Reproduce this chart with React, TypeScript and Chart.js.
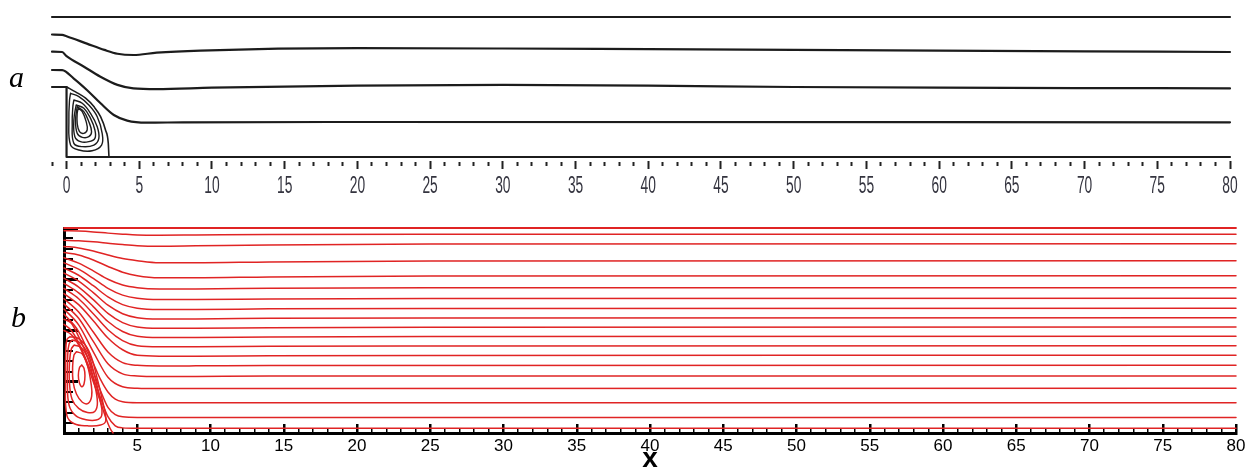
import React, { useEffect, useRef } from "react";
import { Chart, registerables } from "chart.js";
Chart.register(...registerables);

type P = [number, number];

// ---------- Panel a (top): axis ----------
const aXMin = -1;
const aXMax = 80;
const aYMin = 0;
const aYMax = 2;
const aLabelStep = 5;

// walls
const aTopWall: P[] = [[-1, 2], [80, 2]];
const aStepWall: P[] = [[-1, 1], [0, 1], [0, 0], [80, 0]];

// streamlines
const aStream1: P[] = [[-1, 1.75], [-0.3, 1.745], [0, 1.725], [1.4, 1.62], [2.6, 1.53], [3.5, 1.475], [4.6, 1.457], [6.2, 1.49], [9.2, 1.52], [20, 1.555], [30, 1.55], [40, 1.54], [50, 1.53], [60, 1.52], [70, 1.51], [80, 1.5]];
const aStream2: P[] = [[-1, 1.504], [-0.3, 1.5], [0, 1.44], [1.2, 1.29], [2.3, 1.15], [3.5, 1.03], [4.6, 0.98], [6.2, 0.97], [10, 0.99], [20, 1.02], [30, 1.03], [40, 1.02], [50, 1.0], [60, 0.99], [70, 0.985], [80, 0.98]];
const aStream3: P[] = [[-1, 1.243], [-0.3, 1.24], [0.5, 1.12], [1.4, 0.957], [2.34, 0.767], [3.25, 0.6], [4.17, 0.52], [5.5, 0.49], [8, 0.495], [20, 0.5], [80, 0.495]];
const aSeparatrix: P[] = [[0.02, 1.0], [0.62, 0.93], [1.31, 0.84], [1.88, 0.72], [2.34, 0.576], [2.68, 0.386], [2.87, 0.196], [2.91, 0.03], [2.92, 0]];

// recirculation loops
const aLoop1: P[] = [[0.275, 0.91], [0.85, 0.862], [1.53, 0.743], [2.11, 0.576], [2.45, 0.338], [2.41, 0.171], [1.76, 0.09], [0.85, 0.1], [0.275, 0.171], [0.16, 0.529], [0.206, 0.814], [0.275, 0.91]];
const aLoop2: P[] = [[0.504, 0.814], [1.08, 0.767], [1.65, 0.624], [2.11, 0.433], [2.22, 0.267], [1.88, 0.171], [1.08, 0.148], [0.504, 0.195], [0.39, 0.481], [0.435, 0.719], [0.504, 0.814]];
const aLoop3: P[] = [[0.66, 0.743], [1.19, 0.695], [1.65, 0.552], [1.95, 0.386], [1.95, 0.267], [1.53, 0.219], [0.96, 0.219], [0.573, 0.29], [0.504, 0.529], [0.66, 0.743]];
const aLoop4: P[] = [[0.733, 0.719], [1.19, 0.648], [1.53, 0.505], [1.72, 0.362], [1.53, 0.29], [1.08, 0.281], [0.733, 0.338], [0.62, 0.529], [0.733, 0.719]];
const aLoop5: P[] = [[0.8, 0.695], [1.08, 0.648], [1.35, 0.505], [1.42, 0.386], [1.19, 0.338], [0.89, 0.362], [0.733, 0.481], [0.733, 0.624], [0.8, 0.695]];

// ---------- Panel b (bottom) ----------
const bXMin = 0;
const bXMax = 80;
const bYMin = 0;
const bYMax = 2;

const bTopWall: P[] = [[0, 2], [80, 2]];

const bStreams: P[][] = [
  [[0, 1.973], [1, 1.97], [2, 1.962], [3, 1.95], [4, 1.94], [5, 1.932], [6.5, 1.93], [9, 1.932], [14, 1.936], [25, 1.939], [80, 1.939]],
  [[0, 1.88], [1, 1.876], [2, 1.866], [3, 1.852], [4, 1.838], [5, 1.827], [6.5, 1.822], [9, 1.826], [14, 1.835], [25, 1.843], [80, 1.847]],
  [[0, 1.82], [1, 1.806], [2, 1.776], [3, 1.737], [4, 1.702], [5, 1.681], [6.5, 1.661], [9, 1.661], [14, 1.669], [25, 1.677], [80, 1.681]],
  [[0, 1.76], [1, 1.737], [2, 1.688], [3, 1.625], [4, 1.569], [5, 1.535], [6.5, 1.515], [9, 1.515], [14, 1.523], [25, 1.531], [80, 1.535]],
  [[0, 1.71], [1, 1.657], [2, 1.582], [3, 1.5], [4, 1.444], [5, 1.418], [6.5, 1.406], [9, 1.406], [14, 1.412], [25, 1.416], [80, 1.418]],
  [[0, 1.66], [1, 1.598], [2, 1.508], [3, 1.411], [4, 1.345], [5, 1.314], [6.5, 1.302], [9, 1.302], [14, 1.308], [25, 1.312], [80, 1.314]],
  [[0, 1.61], [1, 1.539], [2, 1.437], [3, 1.327], [4, 1.252], [5, 1.217], [6.5, 1.205], [9, 1.205], [14, 1.211], [25, 1.215], [80, 1.217]],
  [[0, 1.56], [1, 1.482], [2, 1.369], [3, 1.247], [4, 1.164], [5, 1.125], [6.5, 1.113], [9, 1.113], [14, 1.119], [25, 1.123], [80, 1.125]],
  [[0, 1.51], [1, 1.424], [2, 1.301], [3, 1.167], [4, 1.077], [5, 1.034], [6.5, 1.022], [9, 1.022], [14, 1.028], [25, 1.032], [80, 1.034]],
  [[0, 1.46], [1, 1.367], [2, 1.233], [3, 1.088], [4, 0.99], [5, 0.943], [6.5, 0.931], [9, 0.931], [14, 0.937], [25, 0.941], [80, 0.943]],
  [[0, 1.41], [1, 1.31], [2, 1.164], [3, 1.008], [4, 0.902], [5, 0.852], [6.5, 0.842], [9, 0.842], [14, 0.847], [25, 0.85], [80, 0.852]],
  [[0, 1.36], [1, 1.252], [2, 1.095], [3, 0.927], [4, 0.812], [5, 0.758], [6.5, 0.75], [9, 0.75], [14, 0.754], [25, 0.757], [80, 0.758]],
  [[0, 1.31], [1, 1.18], [2, 0.985], [3, 0.79], [4, 0.686], [5, 0.66], [6.5, 0.654], [9, 0.655], [14, 0.658], [80, 0.66]],
  [[0, 1.26], [1, 1.119], [2, 0.894], [3, 0.676], [4, 0.577], [5, 0.556], [6.5, 0.551], [9, 0.552], [14, 0.555], [80, 0.556]],
  [[0, 1.21], [1, 1.055], [2, 0.792], [3, 0.544], [4, 0.451], [5, 0.436], [6.5, 0.433], [14, 0.435], [80, 0.436]],
  [[0, 1.16], [1, 0.99], [2, 0.68], [2.5, 0.52], [3, 0.4], [3.5, 0.33], [4, 0.305], [5, 0.296], [80, 0.296]],
  [[0, 1.11], [0.5, 1.07], [1, 0.94], [1.5, 0.78], [2, 0.6], [2.5, 0.41], [3, 0.25], [3.5, 0.18], [4, 0.158], [5, 0.152], [80, 0.152]],
  [[0, 1.06], [0.5, 1.0], [1, 0.88], [1.5, 0.72], [2, 0.54], [2.5, 0.34], [3, 0.16], [3.5, 0.07], [4, 0.05], [5, 0.046], [80, 0.046]],
];
const bSeparatrix: P[] = [[0, 1.0], [0.5, 0.96], [1, 0.86], [1.5, 0.7], [2, 0.5], [2.5, 0.3], [2.9, 0.13], [3.2, 0.03], [3.35, 0]];

const bLoops: P[][] = [
  [[1.21, 0.663], [1.37, 0.63], [1.43, 0.56], [1.37, 0.48], [1.21, 0.452], [1.05, 0.49], [0.98, 0.56], [1.05, 0.635], [1.21, 0.663]],
  [[0.85, 0.793], [1.25, 0.77], [1.6, 0.66], [1.85, 0.48], [1.89, 0.36], [1.65, 0.29], [1.25, 0.3], [0.85, 0.38], [0.62, 0.5], [0.59, 0.65], [0.68, 0.76], [0.85, 0.793]],
  [[0.7, 0.859], [1.2, 0.83], [1.65, 0.72], [2.05, 0.5], [2.28, 0.3], [2.1, 0.21], [1.6, 0.2], [1.0, 0.24], [0.55, 0.33], [0.37, 0.5], [0.38, 0.7], [0.5, 0.82], [0.7, 0.859]],
  [[0.55, 0.907], [1.1, 0.88], [1.65, 0.77], [2.1, 0.55], [2.5, 0.3], [2.57, 0.17], [2.2, 0.127], [1.5, 0.13], [0.8, 0.17], [0.35, 0.27], [0.23, 0.5], [0.25, 0.75], [0.35, 0.87], [0.55, 0.907]],
  [[0.4, 0.94], [1.0, 0.92], [1.7, 0.8], [2.2, 0.57], [2.65, 0.3], [2.85, 0.12], [2.5, 0.078], [1.6, 0.07], [0.7, 0.09], [0.2, 0.17], [0.1, 0.5], [0.12, 0.8], [0.2, 0.91], [0.4, 0.94]],
];

const FONT_SANS = '"Liberation Sans", Arial, sans-serif';

type Mode = "mono" | "loop" | "straight";
function ds(pts: P[], color: string, width: number, mode: Mode) {
  return {
    data: pts.map(([x, y]) => ({ x, y })),
    borderColor: color,
    borderWidth: width,
    pointRadius: 0,
    fill: false,
    clip: false as any,
    borderCapStyle: "round" as const,
    borderJoinStyle: "round" as const,
    cubicInterpolationMode: mode === "mono" ? ("monotone" as const) : ("default" as const),
    tension: mode === "straight" ? 0 : 0.4,
  };
}

const isMult = (v: number, m: number) => Math.abs(v / m - Math.round(v / m)) < 1e-6;

// Draws the top axis' tick labels in a condensed (horizontally squeezed) face,
// positioned from the x scale's own tick values.
const narrowTickLabels = {
  id: "narrowTickLabels",
  afterDraw(chart: any) {
    const s = chart.scales.x;
    const ctx = chart.ctx;
    ctx.save();
    ctx.fillStyle = "#34343f";
    ctx.font = `23px ${FONT_SANS}`;
    ctx.textAlign = "center";
    ctx.textBaseline = "alphabetic";
    for (const t of s.ticks) {
      if (t.value < 0 || !isMult(t.value, aLabelStep)) continue;
      const x = s.getPixelForValue(t.value);
      ctx.save();
      ctx.translate(x, s.top + 35.5);
      ctx.scale(0.6, 1);
      ctx.fillText(String(t.value), 0, 0);
      ctx.restore();
    }
    ctx.restore();
  },
};

export default function App() {
  const topRef = useRef<HTMLCanvasElement>(null);
  const botRef = useRef<HTMLCanvasElement>(null);

  useEffect(() => {
    const black = "#1c1c1c";
    const topDatasets = [
      ds(aTopWall, black, 2.2, "straight"),
      ds(aStepWall, black, 2.2, "straight"),
      ds(aStream1, black, 2.2, "mono"),
      ds(aStream2, black, 2.2, "mono"),
      ds(aStream3, black, 2.2, "mono"),
      ds(aSeparatrix, black, 1.6, "mono"),
      ds(aLoop1, black, 1.4, "loop"),
      ds(aLoop2, black, 1.4, "loop"),
      ds(aLoop3, black, 1.4, "loop"),
      ds(aLoop4, black, 1.4, "loop"),
      ds(aLoop5, black, 1.4, "loop"),
    ];
    const top = new Chart(topRef.current!, {
      type: "line",
      data: { datasets: topDatasets as any },
      plugins: [narrowTickLabels],
      options: {
        animation: false,
        responsive: false,
        events: [],
        layout: { padding: { left: 52, right: 20, top: 17, bottom: 0 } },
        plugins: { legend: { display: false }, tooltip: { enabled: false } },
        scales: {
          x: {
            type: "linear",
            min: aXMin,
            max: aXMax,
            afterFit: (s: any) => { s.height = 48; },
            border: { display: false },
            grid: {
              drawOnChartArea: false,
              drawTicks: true,
              tickLength: 13,
              tickWidth: 2,
              tickColor: "#222",
              tickBorderDash: (c: any) => (c.tick && isMult(c.tick.value, 5) ? [0, 4, 8, 100] : [0, 5, 4, 100]),
            },
            ticks: {
              stepSize: 1,
              autoSkip: false,
              maxRotation: 0,
              padding: 2,
              color: "rgba(0,0,0,0)",
              font: { family: FONT_SANS, size: 12 },
              callback: () => "",
            },
          },
          y: { type: "linear", min: aYMin, max: aYMax, display: false },
        },
      },
    });

    const red = "#e02424";
    const botDatasets = [
      ds(bTopWall, red, 1.8, "straight"),
      ...bStreams.map((s) => ds(s, red, 1.5, "mono")),
      ds(bSeparatrix, red, 1.5, "mono"),
      ...bLoops.map((s) => ds(s, red, 1.5, "loop")),
    ];
    const bot = new Chart(botRef.current!, {
      type: "line",
      data: { datasets: botDatasets as any },
      options: {
        animation: false,
        responsive: false,
        events: [],
        layout: { padding: { left: 0, right: 14, top: 23, bottom: 0 } },
        plugins: { legend: { display: false }, tooltip: { enabled: false } },
        scales: {
          x: {
            type: "linear",
            min: bXMin,
            max: bXMax,
            afterFit: (s: any) => { s.height = 37; },
            border: {
              display: true,
              width: 3,
              color: "#000",
              dash: (c: any) => {
                if (c.type !== "tick") return [];
                const ca = c.chart.chartArea;
                const h = ca.bottom - ca.top;
                const L = isMult(c.tick.value, 5) ? 9 : 5;
                return [0, h - L, L + 20, 100];
              },
            },
            grid: {
              drawOnChartArea: true,
              drawTicks: false,
              color: "#000",
              lineWidth: (c: any) => (c.tick && isMult(c.tick.value, 5) ? 2.5 : 1.5),
            },
            ticks: {
              stepSize: 1,
              autoSkip: false,
              maxRotation: 0,
              padding: 3,
              color: "#000",
              font: { family: FONT_SANS, size: 17 },
              callback: (v: any) => (v > 0 && isMult(v, 5) ? String(v) : ""),
            },
            title: {
              display: true,
              text: "x",
              color: "#000",
              font: { family: FONT_SANS, size: 28, weight: "bold", lineHeight: 0.75 },
              padding: 0,
            },
          },
          y: {
            type: "linear",
            min: bYMin,
            max: bYMax,
            afterFit: (s: any) => { s.width = 64; },
            border: {
              display: true,
              width: 3,
              color: "#000",
              dash: (c: any) => {
                if (c.type !== "tick") return [];
                const L = isMult(c.tick.value, 0.5) ? 12 : 7;
                return [L, 5000];
              },
            },
            grid: {
              drawOnChartArea: true,
              drawTicks: false,
              color: "#000",
              lineWidth: (c: any) => (c.tick && isMult(c.tick.value, 0.5) ? 3 : 2),
            },
            ticks: { stepSize: 0.1, autoSkip: false, display: false },
          },
        },
      },
    });

    return () => {
      top.destroy();
      bot.destroy();
    };
  }, []);

  const letter: React.CSSProperties = {
    position: "absolute",
    font: 'italic 30px "Liberation Serif", "Times New Roman", serif',
    lineHeight: "30px",
    color: "#000",
  };

  return (
    <div style={{ position: "absolute", left: 0, top: 0, width: 1250, height: 470, background: "#fff", overflow: "hidden" }}>
      <canvas ref={topRef} width={1250} height={205} style={{ position: "absolute", left: 0, top: 0 }} />
      <canvas ref={botRef} width={1250} height={265} style={{ position: "absolute", left: 0, top: 205 }} />
      <span style={{ ...letter, left: 9, top: 62 }}>a</span>
      <span style={{ ...letter, left: 11, top: 302 }}>b</span>
    </div>
  );
}
